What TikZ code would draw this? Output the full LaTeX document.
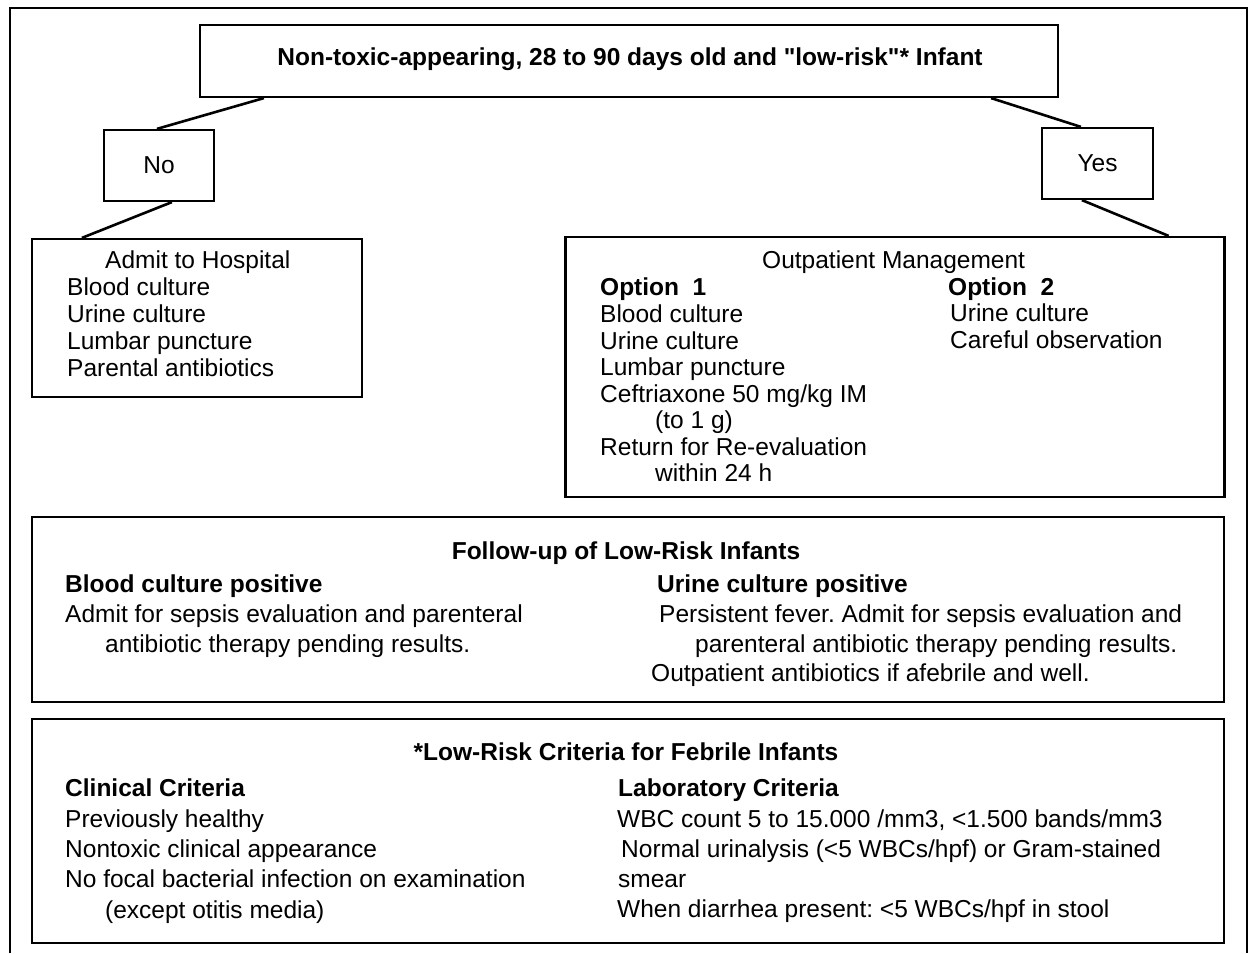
\documentclass[tikz,border=0pt]{standalone}
\usepackage{fontspec}
\setmainfont{Liberation Sans}
\newfontfamily\bodyfont{Liberation Sans}
\frenchspacing
\begin{document}
\begin{tikzpicture}[x=1pt,y=-1pt,
  box/.style={draw, line width=2.2pt, inner sep=0pt},
  conn/.style={line width=2.6pt},
  txt/.style={anchor=base west, inner sep=0pt},
  ctxt/.style={anchor=base, inner sep=0pt},
  bf/.style={font=\bodyfont\fontsize{24.5}{27}\selectfont\bfseries},
  every node/.append style={font=\bodyfont\fontsize{24.5}{27}\selectfont}]
\useasboundingbox (0,0) rectangle (1250,953);
% outer frame
\draw[line width=1.8pt] (10,953) -- (10,8) -- (1247,8) -- (1247,953);

% boxes
\node[box, minimum width=858pt, minimum height=72pt] (top) at (629,61) {};
\node[ctxt, bf] (toptxt) at (630,65) {Non-toxic-appearing, 28 to 90 days old and "low-risk"* Infant};
\node[box, minimum width=110pt, minimum height=71pt] (no) at (159,165.5) {No};
\node[box, minimum width=111pt, minimum height=71pt] (yes) at (1097.5,163.5) {Yes};
\node[box, minimum width=330pt, minimum height=158pt] (admit) at (197,318) {};
\node[box, minimum width=659pt, minimum height=260pt] (outp) at (895,367) {};
\node[box, minimum width=1192pt, minimum height=185pt] (fup) at (628,609.5) {};
\node[box, minimum width=1192pt, minimum height=224pt] (crit) at (628,831) {};

% connectors
\draw[conn] ([xshift=65pt]top.south west) -- ([xshift=54pt]no.north west);
\draw[conn] ([xshift=69pt]no.south west) -- ([xshift=51pt]admit.north west);
\draw[conn] ([xshift=-68pt]top.south east) -- ([xshift=40pt]yes.north west);
\draw[conn] ([xshift=41pt]yes.south west) -- ([xshift=-57pt]outp.north east);

% admit text
\node[txt] (a0) at (105,268) {Admit to Hospital};
\node[txt] (a1) at (67,295) {Blood culture};
\node[txt] (a2) at (67,322) {Urine culture};
\node[txt] (a3) at (67,349) {Lumbar puncture};
\node[txt] (a4) at (67,376) {Parental antibiotics};

% outpatient text
\node[txt] (o0) at (762,268) {Outpatient Management};
\node[txt, bf] (o1) at (600,295) {Option\ \ 1};
\node[txt] (o2) at (600,322) {Blood culture};
\node[txt] (o3) at (600,349) {Urine culture};
\node[txt] (o4) at (600,375) {Lumbar puncture};
\node[txt] (o5) at (600,402) {Ceftriaxone 50 mg/kg IM};
\node[txt] (o6) at (655,428) {(to 1 g)};
\node[txt] (o7) at (600,455) {Return for Re-evaluation};
\node[txt] (o8) at (655,481) {within 24 h};
\node[txt, bf] (p1) at (948,295) {Option\ \ 2};
\node[txt] (p2) at (950,321) {Urine culture};
\node[txt] (p3) at (950,348) {Careful observation};

% follow-up text
\node[ctxt, bf] (f0) at (626,559) {Follow-up of Low-Risk Infants};
\node[txt, bf] (f1) at (65,592) {Blood culture positive};
\node[txt] (f2) at (65,622) {Admit for sepsis evaluation and parenteral};
\node[txt] (f3) at (105,652) {antibiotic therapy pending results.};
\node[txt, bf] (g1) at (657,592) {Urine culture positive};
\node[txt] (g2) at (659,622) {Persistent fever. Admit for sepsis evaluation and};
\node[txt] (g3) at (695,652) {parenteral antibiotic therapy pending results.};
\node[txt] (g4) at (651,681) {Outpatient antibiotics if afebrile and well.};

% criteria text
\node[ctxt, bf] (c0) at (626,760) {*Low-Risk Criteria for Febrile Infants};
\node[txt, bf] (c1) at (65,796) {Clinical Criteria};
\node[txt] (c2) at (65,827) {Previously healthy};
\node[txt] (c3) at (65,857) {Nontoxic clinical appearance};
\node[txt] (c4) at (65,887) {No focal bacterial infection on examination};
\node[txt] (c5) at (105,918) {(except otitis media)};
\node[txt, bf] (l1) at (618,796) {Laboratory Criteria};
\node[txt] (l2) at (617,827) {WBC count 5 to 15.000 /mm3, <1.500 bands/mm3};
\node[txt] (l3) at (621,857) {Normal urinalysis (<5 WBCs/hpf) or Gram-stained};
\node[txt] (l4) at (618,887) {smear};
\node[txt] (l5) at (617,917) {When diarrhea present: <5 WBCs/hpf in stool};
\end{tikzpicture}
\end{document}
